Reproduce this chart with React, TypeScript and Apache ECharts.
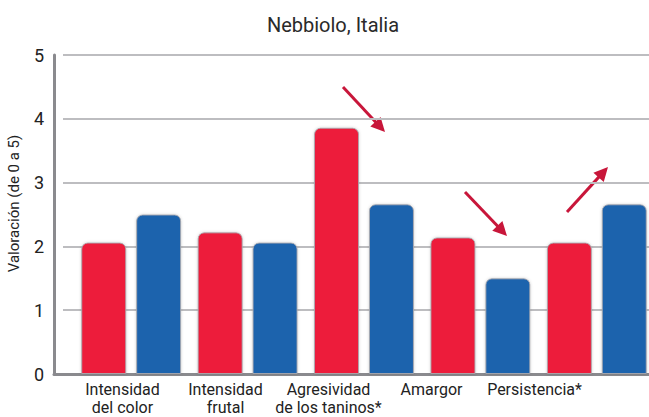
import React, { useEffect, useRef } from "react";
import * as echarts from "echarts";

const title = "Nebbiolo, Italia";
const yAxisName = "Valoración (de 0 a 5)";
const categories = [
  "Intensidad\ndel color",
  "Intensidad\nfrutal",
  "Agresividad\nde los taninos*",
  "Amargor",
  "Persistencia*",
];
const redValues = [2.06, 2.22, 3.86, 2.14, 2.06];
const blueValues = [2.5, 2.06, 2.66, 1.5, 2.66];
const yMin = 0;
const yMax = 5;
const yInterval = 1;

const FONT = "Roboto, sans-serif";
const RED = "#ed1a3b";
const BLUE = "#1f63ad";
const ARROW = "#c8163a";

function arrow(x1: number, y1: number, x2: number, y2: number) {
  const ang = Math.atan2(y2 - y1, x2 - x1);
  const len = 14;
  const half = 7;
  const bx = x2 - len * Math.cos(ang);
  const by = y2 - len * Math.sin(ang);
  const px = -Math.sin(ang) * half;
  const py = Math.cos(ang) * half;
  return [
    {
      type: "line",
      shape: { x1, y1, x2: bx + 3 * Math.cos(ang), y2: by + 3 * Math.sin(ang) },
      style: { stroke: ARROW, lineWidth: 3 },
      silent: true,
    },
    {
      type: "polygon",
      shape: { points: [[x2, y2], [bx + px, by + py], [bx - px, by - py]] },
      style: { fill: ARROW },
      silent: true,
    },
  ];
}

export default function App() {
  const ref = useRef<HTMLDivElement>(null);
  useEffect(() => {
    if (!ref.current) return;
    const chart = echarts.init(ref.current, null, { renderer: "svg" });
    const barStyle = (c: string) => ({
      color: c,
      borderRadius: [6, 6, 0, 0],
      borderColor: "rgba(170,170,175,0.9)",
      borderWidth: 1,
      shadowColor: "rgba(0,0,0,0.18)",
      shadowBlur: 3,
    });
    const g = { top: 55, bottom: 43, containLabel: false, outerBoundsMode: "none" };
    chart.setOption({
      animation: false,
      backgroundColor: "#ffffff",
      title: {
        text: title,
        left: 328,
        textAlign: "center",
        top: 10,
        textStyle: { fontFamily: FONT, fontSize: 20, fontWeight: "normal", color: "#2a2a2a" },
      },
      grid: [
        { ...g, left: 54, right: 0 },
        { ...g, left: 63, right: 0 },
        { ...g, left: 73, width: 582 },
        { ...g, left: 71, width: 515 },
      ],
      xAxis: [
        {
          gridIndex: 0, type: "value", min: 0, max: 1,
          axisLine: { show: true, onZero: false, lineStyle: { color: "#8a8a8e", width: 3 } },
          axisTick: { show: false }, axisLabel: { show: false }, splitLine: { show: false },
        },
        {
          gridIndex: 1, type: "value", min: 0, max: 1, show: false,
        },
        {
          gridIndex: 2, type: "category", data: categories, show: false,
        },
        {
          gridIndex: 3, type: "category", data: categories,
          axisLine: { show: false }, axisTick: { show: false },
          axisLabel: {
            interval: 0, margin: 6, fontFamily: FONT, fontSize: 16, color: "#222",
            lineHeight: 18,
          },
        },
      ],
      yAxis: [
        {
          gridIndex: 0, type: "value", min: yMin, max: yMax, interval: yInterval,
          name: yAxisName, nameLocation: "middle", nameGap: 33,
          nameTextStyle: { fontFamily: FONT, fontSize: 15, color: "#222", padding: [0, 0, 0, 22] },
          axisLine: { show: true, lineStyle: { color: "#8a8a8e", width: 3 } },
          axisTick: { show: false },
          axisLabel: { margin: 10, fontFamily: FONT, fontSize: 18, color: "#222" },
          splitLine: { show: false },
        },
        {
          gridIndex: 1, type: "value", min: yMin, max: yMax, interval: yInterval,
          axisLine: { show: false }, axisTick: { show: false }, axisLabel: { show: false },
          splitLine: { show: true, lineStyle: { color: "#bdbdc0", width: 2 } },
        },
        {
          gridIndex: 2, type: "value", min: yMin, max: yMax, interval: yInterval, show: false,
        },
        {
          gridIndex: 3, type: "value", min: yMin, max: yMax, show: false,
        },
      ],
      series: [
        {
          type: "bar", xAxisIndex: 2, yAxisIndex: 2, data: redValues,
          barWidth: 45, barGap: "22%", itemStyle: barStyle(RED), z: 3,
        },
        {
          type: "bar", xAxisIndex: 2, yAxisIndex: 2, data: blueValues,
          barWidth: 45, barGap: "22%", itemStyle: barStyle(BLUE), z: 3,
        },
      ],
      graphic: [
        ...arrow(343, 87, 385, 132),
        ...arrow(465, 192, 507, 236),
        ...arrow(567, 212, 608, 167),
      ],
    });
    return () => chart.dispose();
  }, []);
  return (
    <div
      ref={ref}
      style={{ position: "fixed", left: 0, top: 0, width: 649, height: 417, overflow: "hidden" }}
    />
  );
}
